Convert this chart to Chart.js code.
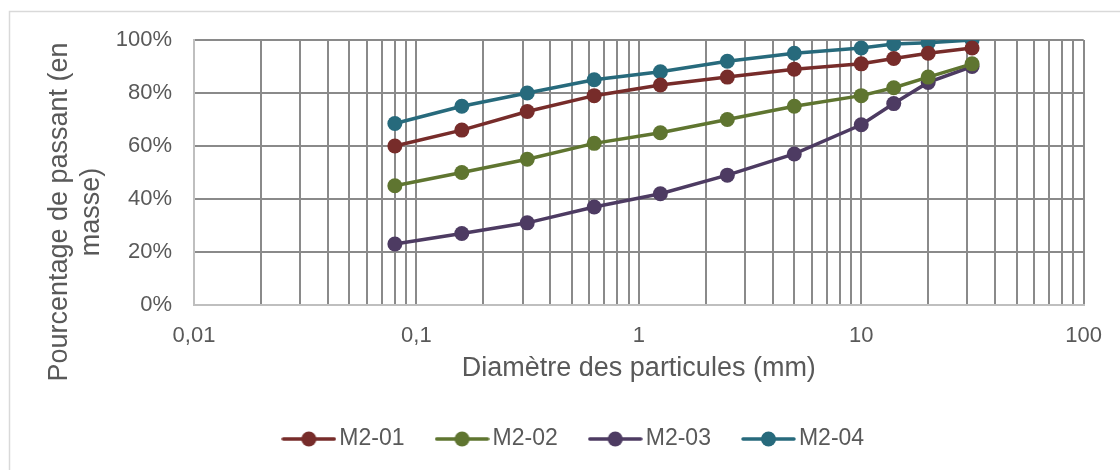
<!DOCTYPE html>
<html lang="fr">
<head>
<meta charset="UTF-8">
<script src="https://cdn.jsdelivr.net/npm/chart.js@4"></script>
<style>
  body { margin: 0; background: #fff; }
  canvas { display: block; }
</style>
</head>
<body>
<canvas id="myChart" width="1120" height="470"></canvas>
<script>
// tamis (mm)
const sieves = [0.08, 0.16, 0.315, 0.63, 1.25, 2.5, 5, 10, 14, 20, 31.5]
const m201 = [60, 66, 73, 79, 83, 86, 89, 91, 93, 95, 97]
const m202 = [45, 50, 55, 61, 65, 70, 75, 79, 82, 86, 91]
const m203 = [23, 27, 31, 37, 42, 49, 57, 68, 76, 84, 90]
const m204 = [68.5, 75, 80, 85, 88, 92, 95, 97, 98.5, 99, 100]
const seriesNames = ['M2-01', 'M2-02', 'M2-03', 'M2-04']
const majorTicks = [0.01, 0.1, 1, 10, 100]
const majorLabels = ['0,01', '0,1', '1', '10', '100']
const yTicks = [0, 20, 40, 60, 80, 100]
const yTitle = ['Pourcentage de passant (en', 'masse)']
const xTitle = 'Diamètre des particules (mm)'

const colors = ['#772c2a', '#5f7530', '#4d3b62', '#276a7c']
const textColor = '#595959'
const font = 'Liberation Sans, Arial, sans-serif'

function toPoints(vals) {
  return vals.map((v, i) => ({ x: sieves[i], y: v }))
}

// legend sample: line with a dot
function legendIcon(color) {
  const c = document.createElement('canvas')
  c.width = 55; c.height = 18
  const g = c.getContext('2d')
  g.strokeStyle = color
  g.lineWidth = 3.5
  g.lineCap = 'round'
  g.beginPath(); g.moveTo(2, 9); g.lineTo(53, 9); g.stroke()
  g.fillStyle = color
  g.beginPath(); g.arc(27.5, 9, 7.5, 0, Math.PI * 2); g.fill()
  return c
}

const frame = {
  id: 'frame',
  beforeDraw(chart) {
    const ctx = chart.ctx
    ctx.save()
    ctx.fillStyle = '#fff'
    ctx.fillRect(0, 0, chart.width, chart.height)
    ctx.strokeStyle = '#d9d9d9'
    ctx.lineWidth = 1.5
    ctx.strokeRect(9.5, 11.5, 1130, 480)
    ctx.restore()
  },
  afterDraw(chart) {
    const ctx = chart.ctx
    ctx.save()
    ctx.fillStyle = textColor
    ctx.font = '27px ' + font
    ctx.textAlign = 'center'
    ctx.textBaseline = 'middle'
    ctx.translate(0, 212)
    ctx.rotate(-Math.PI / 2)
    ctx.fillText(yTitle[0], 0, 60)
    ctx.fillText(yTitle[1], 0, 92)
    ctx.restore()
  }
}

const datasets = [m201, m202, m203, m204].map((vals, i) => ({
  label: seriesNames[i],
  data: toPoints(vals),
  borderColor: colors[i],
  backgroundColor: colors[i],
  borderWidth: 3.5,
  pointRadius: 7.5,
  pointHoverRadius: 7.5,
  pointBorderWidth: 0,
  pointStyle: 'circle',
  legendIcon: legendIcon(colors[i])
}))

new Chart(document.getElementById('myChart'), {
  type: 'line',
  data: { datasets: datasets },
  options: {
    responsive: false,
    animation: false,
    layout: { padding: { top: 40, right: 36, left: 70, bottom: 9.5 } },
    scales: {
      x: {
        type: 'logarithmic',
        min: 0.01,
        max: 100,
        afterBuildTicks(scale) {
          const t = []
          for (let d = 0; d < majorTicks.length - 1; d++) {
            for (let k = 1; k < 10; k++) t.push({ value: majorTicks[d] * k })
          }
          t.push({ value: majorTicks[majorTicks.length - 1] })
          scale.ticks = t
        },
        afterFit(scale) { scale.height = 84 },
        ticks: {
          autoSkip: false,
          maxRotation: 0,
          color: textColor,
          font: { family: font, size: 22 },
          padding: 18,
          callback(v) {
            const i = majorTicks.findIndex(m => Math.abs(m - v) / m < 1e-6)
            return i >= 0 ? majorLabels[i] : ''
          }
        },
        grid: { color: '#8a8a8a', lineWidth: 2, drawTicks: false },
        border: { color: '#bfbfbf', width: 2 },
        title: {
          display: true,
          text: xTitle,
          color: textColor,
          font: { family: font, size: 27 },
          padding: { top: 0, bottom: 4 }
        }
      },
      y: {
        min: 0,
        max: 100,
        afterBuildTicks(scale) {
          scale.ticks = yTicks.map(v => ({ value: v }))
        },
        afterFit(scale) { scale.width = 124 },
        ticks: {
          color: textColor,
          font: { family: font, size: 22 },
          padding: 22,
          callback: v => v + '%'
        },
        grid: { color: '#8a8a8a', lineWidth: 2, drawTicks: false },
        border: { color: '#bfbfbf', width: 2 }
      }
    },
    plugins: {
      tooltip: { enabled: false },
      legend: {
        position: 'bottom',
        labels: {
          usePointStyle: true,
          pointStyleWidth: 38,
          padding: 38.5,
          color: textColor,
          font: { family: font, size: 23 },
          generateLabels(chart) {
            return chart.data.datasets.map((ds, i) => ({
              text: ds.label,
              pointStyle: ds.legendIcon,
              fillStyle: ds.borderColor,
              strokeStyle: ds.borderColor,
              fontColor: textColor,
              lineWidth: 0,
              hidden: false,
              datasetIndex: i
            }))
          }
        }
      }
    }
  },
  plugins: [frame]
})
</script>
</body>
</html>
